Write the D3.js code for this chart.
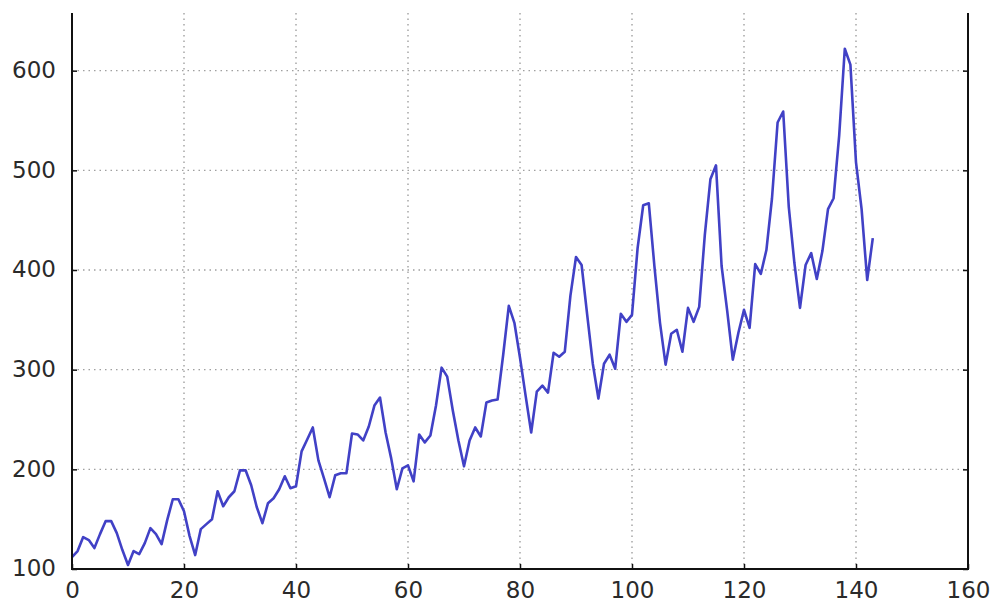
<!DOCTYPE html>
<html>
<head>
<meta charset="utf-8">
<script src="https://cdn.jsdelivr.net/npm/d3@7"></script>
<style>
  html, body { margin: 0; padding: 0; background: #fff; }
  svg { display: block; }
  .tick-label { font-family: "DejaVu Sans", sans-serif; font-size: 23px; fill: #2a2a2a; }
</style>
</head>
<body>
<svg id="chart" width="994" height="603"></svg>
<script>
// Monthly airline passengers (thousands), Jan 1949 – Dec 1960, indexed by month number
const passengers = [
  112, 118, 132, 129, 121, 135, 148, 148, 136, 119, 104, 118,
  115, 126, 141, 135, 125, 149, 170, 170, 158, 133, 114, 140,
  145, 150, 178, 163, 172, 178, 199, 199, 184, 162, 146, 166,
  171, 180, 193, 181, 183, 218, 230, 242, 209, 191, 172, 194,
  196, 196, 236, 235, 229, 243, 264, 272, 237, 211, 180, 201,
  204, 188, 235, 227, 234, 264, 302, 293, 259, 229, 203, 229,
  242, 233, 267, 269, 270, 315, 364, 347, 312, 274, 237, 278,
  284, 277, 317, 313, 318, 374, 413, 405, 355, 306, 271, 306,
  315, 301, 356, 348, 355, 422, 465, 467, 404, 347, 305, 336,
  340, 318, 362, 348, 363, 435, 491, 505, 404, 359, 310, 337,
  360, 342, 406, 396, 420, 472, 548, 559, 463, 407, 362, 405,
  417, 391, 419, 461, 472, 535, 622, 606, 508, 461, 390, 432
];
const xTicks = [0, 20, 40, 60, 80, 100, 120, 140, 160];
const yTicks = [100, 200, 300, 400, 500, 600];
const xDomain = [0, 160];
const yDomain = [100, 700];

const svg = d3.select("#chart");
// the y range runs above the visible frame, whose top edge is cut at frameTop
const plotLeft = 72, plotRight = 968, plotBottom = 569, plotTop = -29, frameTop = 13;

const x = d3.scaleLinear().domain(xDomain).range([plotLeft, plotRight]);
const y = d3.scaleLinear().domain(yDomain).range([plotBottom, plotTop]);

// dotted grid
const gridColor = "#a0a0a0";
const grid = svg.append("g");
grid.selectAll("line.gx").data(xTicks.slice(1, -1)).join("line")
  .attr("x1", d => x(d)).attr("x2", d => x(d))
  .attr("y1", frameTop).attr("y2", plotBottom)
  .attr("stroke", gridColor).attr("stroke-width", 1.4).attr("stroke-dasharray", "1.5,4");
grid.selectAll("line.gy").data(yTicks.slice(1)).join("line")
  .attr("x1", plotLeft).attr("x2", plotRight)
  .attr("y1", d => y(d)).attr("y2", d => y(d))
  .attr("stroke", gridColor).attr("stroke-width", 1.4).attr("stroke-dasharray", "1.5,4");

// series line
const line = d3.line()
  .x((d, i) => x(i))
  .y(d => y(d));
svg.append("path")
  .datum(passengers)
  .attr("d", line)
  .attr("fill", "none")
  .attr("stroke", "#4141c6")
  .attr("stroke-width", 2.6)
  .attr("stroke-linejoin", "round");

// axes with inward ticks, classic style
const tickLen = 5;
const axisLeft = d3.axisLeft(y).tickValues(yTicks).tickSize(-tickLen).tickPadding(16).tickFormat(d3.format("d"));
const axisRight = d3.axisRight(y).tickValues(yTicks).tickSize(-tickLen).tickFormat("");
const axisBottom = d3.axisBottom(x).tickValues(xTicks).tickSize(-tickLen).tickPadding(12).tickFormat(d3.format("d"));

function style(g) {
  g.select(".domain").remove();
  g.selectAll(".tick line").attr("stroke", "#111").attr("stroke-width", 1.5);
  g.selectAll(".tick text").attr("class", "tick-label").attr("fill", null);
}

svg.append("g").attr("transform", `translate(${plotLeft},0)`).call(axisLeft).call(style)
  .selectAll(".tick text").attr("dy", "0.30em");
svg.append("g").attr("transform", `translate(${plotRight},0)`).call(axisRight).call(style);
svg.append("g").attr("transform", `translate(0,${plotBottom})`).call(axisBottom).call(style)
  .selectAll(".tick text").attr("dy", "0.74em");

// spines: left, right and bottom
svg.append("path")
  .attr("d", `M${plotLeft},${frameTop}V${plotBottom}H${plotRight}V${frameTop}`)
  .attr("fill", "none").attr("stroke", "#111").attr("stroke-width", 2);
</script>
</body>
</html>
